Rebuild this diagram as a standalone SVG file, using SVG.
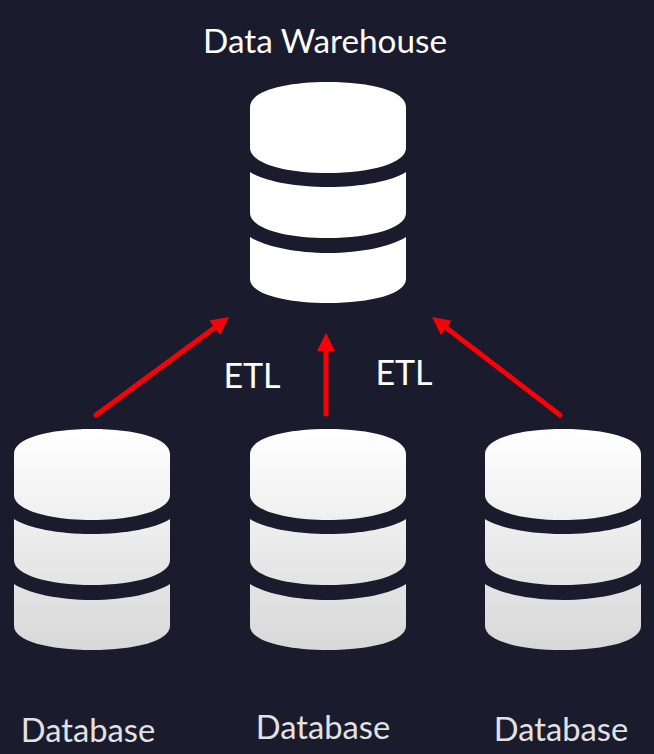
<svg xmlns="http://www.w3.org/2000/svg" xmlns:xlink="http://www.w3.org/1999/xlink" width="654" height="754" viewBox="0 0 654 754">
<style>
.lbl{font-family:"Lato","Open Sans","Liberation Sans",sans-serif;text-anchor:middle}
.title{font-size:33.3px;fill:#fff}
.db{font-size:32.7px;fill:#e2e2e2}
.etl{font-size:34px;fill:#fff}
.arrow{fill:none;stroke:#fa0008;stroke-width:5;stroke-linecap:round}
</style>
<defs>
<linearGradient id="fade" x1="0" y1="0" x2="0" y2="1"><stop offset="0" stop-color="#ffffff"/><stop offset="1" stop-color="#d8d8d8"/></linearGradient>
<marker id="head" markerUnits="userSpaceOnUse" markerWidth="24" markerHeight="24" refX="8" refY="9" orient="auto"><path d="M0 0L18 9L0 18Z" fill="#fa0008"/></marker>
<path id="cyl" d="M0 25C0 9 35 0 78 0S156 9 156 25V66C156 81 121 91 78 91S0 81 0 66Z M0 90C14 99 44 105 78 105S142 99 156 90V131C156 146 121 156 78 156S0 146 0 131Z M0 155C14 164 44 171 78 171S142 164 156 155V197C156 212 121 221 78 221S0 212 0 197Z"/>
</defs>
<rect width="654" height="754" fill="#1b1b2e"/>
<g id="connectors">
<line class="arrow" x1="96" y1="415" x2="221" y2="323" marker-end="url(#head)"/>
<line class="arrow" x1="326" y1="414" x2="326" y2="343" marker-end="url(#head)"/>
<line class="arrow" x1="560" y1="415" x2="440" y2="323" marker-end="url(#head)"/>
</g>
<g id="warehouse">
<use href="#cyl" x="250" y="82" fill="#fff"/>
<text class="lbl title" x="325" y="53">Data Warehouse</text>
</g>
<g id="db1">
<use href="#cyl" x="14" y="429" fill="url(#fade)"/>
<text class="lbl db" x="88" y="742">Database</text>
</g>
<g id="db2">
<use href="#cyl" x="250" y="429" fill="url(#fade)"/>
<text class="lbl db" x="323" y="739">Database</text>
</g>
<g id="db3">
<use href="#cyl" x="485" y="429" fill="url(#fade)"/>
<text class="lbl db" x="561" y="741">Database</text>
</g>
<g id="etl-labels">
<text class="lbl etl" x="252" y="388">ETL</text>
<text class="lbl etl" x="404" y="385">ETL</text>
</g>
</svg>
